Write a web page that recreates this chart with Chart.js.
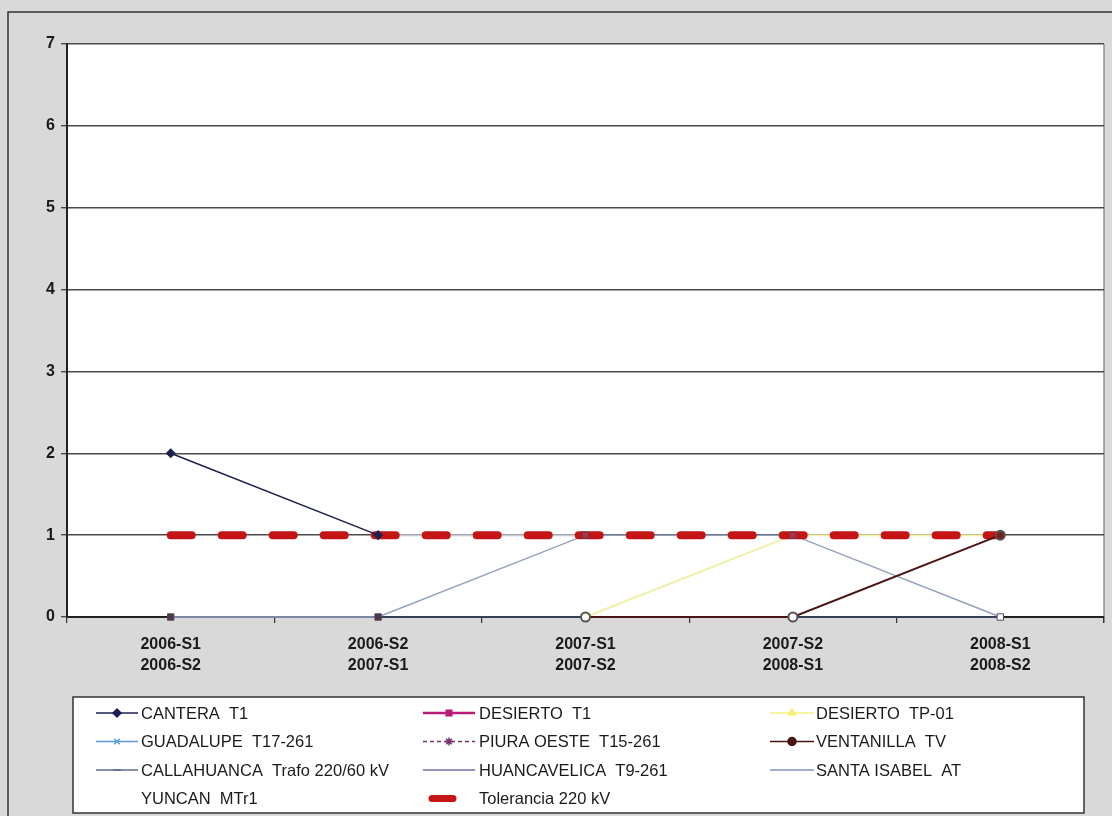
<!DOCTYPE html>
<html>
<head>
<meta charset="utf-8">
<title>Tolerancia 220 kV</title>
<script src="https://cdn.jsdelivr.net/npm/chart.js@4.4.1/dist/chart.umd.min.js"></script>
<style>
  body { margin: 0; background: #d9d9d9; }
  #wrap { width: 1112px; height: 816px; }
</style>
</head>
<body>
<div id="wrap"><canvas id="myChart" width="1112" height="816"></canvas></div>
<script>
// periodos (eje x)
const periodos = [
  ['2006-S1', '2006-S2'],
  ['2006-S2', '2007-S1'],
  ['2007-S1', '2007-S2'],
  ['2007-S2', '2008-S1'],
  ['2008-S1', '2008-S2']
];
const yTicks = [0, 1, 2, 3, 4, 5, 6, 7];

// valores
const cantera      = [2, 1, null, null, null];
const desiertoT1   = [0, 0, 1, 1, 0];
const desiertoTP01 = [null, null, 0, 1, 1];
const guadalupe    = [null, null, null, null, null];
const piuraOeste   = [null, null, null, null, null];
const ventanilla   = [null, null, 0, 0, 1];
const callahuanca  = [0, 0, 0, 0, 0];
const huancavelica = [null, 1, 1, null, null];
const santaIsabel  = [0, 0, 1, 1, 0];
const yuncan       = [null, null, null, null, null];
const tolerancia   = [1, 1, 1, 1, 1];

const FONT = "'Liberation Sans', Arial, sans-serif";
const ctx = document.getElementById('myChart');

// fondo gris + area blanca
const fondo = {
  id: 'fondo',
  beforeDraw(chart) {
    const c = chart.ctx, a = chart.chartArea;
    c.save();
    c.fillStyle = '#d9d9d9';
    c.fillRect(0, 0, chart.width, chart.height);
    c.strokeStyle = '#333';
    c.lineWidth = 1.5;
    c.beginPath();
    c.moveTo(8, chart.height);
    c.lineTo(8, 12);
    c.lineTo(chart.width, 12);
    c.stroke();
    c.fillStyle = '#ffffff';
    c.fillRect(a.left, a.top, a.right - a.left, a.bottom - a.top);
    c.strokeStyle = '#777';
    c.lineWidth = 1.2;
    c.beginPath();
    c.moveTo(a.right, a.top);
    c.lineTo(a.right, a.bottom + 6);
    c.stroke();
    c.restore();
  }
};

// leyenda dibujada a mano (3 columnas)
const leyendaCols = [
  { x0: 96, x1: 138, tx: 141 },
  { x0: 423, x1: 475, tx: 479 },
  { x0: 770, x1: 814, tx: 816 }
];
const leyenda = {
  id: 'leyenda',
  afterDraw(chart) {
    const c = chart.ctx;
    c.save();
    c.fillStyle = '#fff';
    c.fillRect(73, 697, 1011, 116);
    c.strokeStyle = '#333';
    c.lineWidth = 1.5;
    c.strokeRect(73, 697, 1011, 116);
    c.font = '16.5px ' + FONT;
    c.textBaseline = 'middle';
    chart.data.datasets.forEach((ds, i) => {
      const col = leyendaCols[i % 3];
      const y = 713 + Math.floor(i / 3) * 28.5;
      if (ds.legendDash) {
        c.strokeStyle = ds.borderColor;
        c.lineWidth = 7;
        c.lineCap = 'round';
        c.beginPath();
        c.moveTo(col.x0 + 9, y);
        c.lineTo(col.x0 + 30, y);
        c.stroke();
        c.lineCap = 'butt';
      } else if (ds.showLegendLine !== false) {
        c.strokeStyle = ds.legendColor || ds.borderColor;
        c.lineWidth = ds.legendWidth || 1.5;
        c.setLineDash(ds.borderDash || []);
        c.beginPath();
        c.moveTo(col.x0, y);
        c.lineTo(col.x1, y);
        c.stroke();
        c.setLineDash([]);
        if (ds.pointStyle && Chart.helpers && Chart.helpers.drawPoint) {
          c.fillStyle = ds.legendColor || ds.borderColor;
          c.strokeStyle = ds.legendColor || ds.borderColor;
          c.lineWidth = 1.5;
          Chart.helpers.drawPoint(c, {
            pointStyle: ds.pointStyle, radius: ds.legendRadius || 4, rotation: 0, borderWidth: 1.5
          }, (col.x0 + col.x1) / 2, y);
        }
      }
      c.fillStyle = '#1a1a1a';
      c.fillText(ds.label, col.tx, y + 1);
    });
    c.restore();
  }
};

new Chart(ctx, {
  type: 'line',
  data: {
    labels: periodos,
    datasets: [
      { label: 'CANTERA  T1', data: cantera, borderColor: '#1c1f4f', backgroundColor: '#1c1f4f',
        borderWidth: 1.5, pointStyle: 'rectRot', pointRadius: 4, order: 1 },
      { label: 'DESIERTO  T1', data: desiertoT1, borderColor: '#b81c78', legendWidth: 2.5,
        showLine: false, pointStyle: 'rect', pointRadius: 4.5, order: 2,
        pointBorderColor: '#5a4054',
        pointBackgroundColor: (c) => c.dataIndex === 4 ? '#ffffff' : (c.raw === 1 ? '#b0304a' : '#4a3a46') },
      { label: 'DESIERTO  TP-01', data: desiertoTP01, borderColor: '#f0f0a8', legendColor: '#f4f07a',
        borderWidth: 2, pointStyle: 'triangle', pointRadius: 0, order: 7 },
      { label: 'GUADALUPE  T17-261', data: guadalupe, borderColor: '#5b9bd5', borderWidth: 1.5,
        pointStyle: 'crossRot', pointRadius: 4, order: 9 },
      { label: 'PIURA OESTE  T15-261', data: piuraOeste, borderColor: '#7a2f6d', borderWidth: 1.5,
        borderDash: [4, 3], pointStyle: 'star', pointRadius: 4, order: 9 },
      { label: 'VENTANILLA  TV', data: ventanilla, borderColor: '#4a1414', borderWidth: 2,
        pointStyle: 'circle', pointRadius: 4.5, order: 3, pointBorderColor: '#555',
        pointBackgroundColor: (c) => c.raw === 0 ? '#ffffff' : '#7a1e1e' },
      { label: 'CALLAHUANCA  Trafo 220/60 kV', data: callahuanca, borderColor: '#3e4a66', borderWidth: 1.5,
        legendColor: '#5c6c92', pointStyle: 'line', pointRadius: 0, legendRadius: 4, order: 9 },
      { label: 'HUANCAVELICA  T9-261', data: huancavelica, borderColor: '#c8c8d2', legendColor: '#7070a8',
        borderWidth: 2, pointRadius: 0, order: 8 },
      { label: 'SANTA ISABEL  AT', data: santaIsabel, borderColor: '#93a1c0', legendColor: '#8096c4',
        borderWidth: 1.5, pointRadius: 0, order: 6 },
      { label: 'YUNCAN  MTr1', data: yuncan, borderColor: '#ffffff', borderWidth: 1,
        pointRadius: 0, order: 9, showLegendLine: false },
      { label: 'Tolerancia 220 kV', data: tolerancia, borderColor: '#c41414', borderWidth: 8,
        borderDash: [21, 30], borderCapStyle: 'round', pointRadius: 0, order: 4, legendDash: true }
    ]
  },
  options: {
    responsive: false,
    animation: false,
    clip: false,
    layout: { padding: { top: 44, right: 8, bottom: 0, left: 0 } },
    plugins: { legend: { display: false }, tooltip: { enabled: false } },
    scales: {
      x: {
        offset: true,
        grid: { offset: true, drawOnChartArea: false, drawTicks: true, tickLength: 6, color: '#333', lineWidth: 1.2 },
        border: { color: '#222', width: 2 },
        ticks: { color: '#1a1a1a', padding: 11, maxRotation: 0,
                 font: { family: FONT, size: 16, weight: 'bold', lineHeight: 1.3 } },
        afterFit: (s) => { s.height = 199; }
      },
      y: {
        min: yTicks[0],
        max: yTicks[yTicks.length - 1],
        afterBuildTicks: (s) => { s.ticks = yTicks.map(v => ({ value: v })); },
        grid: { color: '#4a4a4a', lineWidth: 1.4, tickLength: 6 },
        border: { color: '#222', width: 2 },
        ticks: { color: '#1a1a1a', padding: 6, font: { family: FONT, size: 16, weight: 'bold' } },
        afterFit: (s) => { s.width = 67; }
      }
    }
  },
  plugins: [fondo, leyenda]
});
</script>
</body>
</html>
